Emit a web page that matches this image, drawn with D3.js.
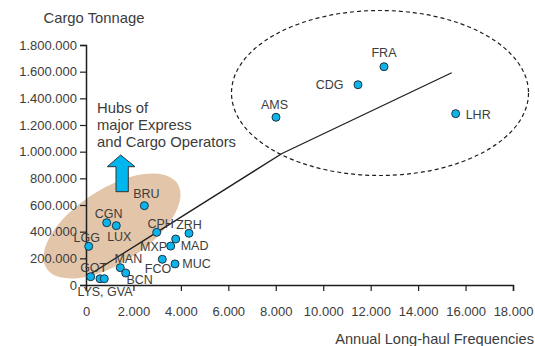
<!DOCTYPE html>
<html>
<head>
<meta charset="utf-8">
<script src="https://cdn.jsdelivr.net/npm/d3@7"></script>
<style>
  html, body { margin: 0; padding: 0; background: #fff; }
  svg { display: block; font-family: "Liberation Sans", Arial, sans-serif; }
</style>
</head>
<body>
<svg id="chart" width="535" height="346"></svg>
<script>
// Airports: annual long-haul frequencies vs. cargo tonnage
const airports    = ["BRU","CGN","LUX","LGG","CPH","ZRH","MXP","MAD","MAN","BCN","FCO","MUC","GOT","LYS","GVA","FRA","CDG","AMS","LHR"];
const frequencies = [2460, 873, 1277, 114, 2980, 4342, 3570, 3781, 1446, 1674, 3216, 3752, 198, 590, 771, 12562, 11466, 8009, 15584];
const tonnage     = [595000, 467000, 445000, 290000, 395000, 388000, 292000, 345000, 130000, 90000, 193000, 158000, 62000, 47000, 47000, 1637000, 1502000, 1258000, 1285000];

// Trend line, read at its ends, through CPH and at its bend
const trendFreq    = [55, 2980, 8262, 15416];
const trendTonnage = [67500, 395000, 986000, 1592000];

// Axis ticks
const xTicks = [0, 2000, 4000, 6000, 8000, 10000, 12000, 14000, 16000, 18000];
const yTicks = [0, 200000, 400000, 600000, 800000, 1000000, 1200000, 1400000, 1600000, 1800000];

// Label placement per airport: offset from the marker, anchor, optional text override
const labelPlace = {
  BRU: [2, -12, "middle"], CGN: [2, -9.5, "middle"], LUX: [3, 11, "middle"],
  LGG: [-2, -8.5, "middle"], CPH: [4, -9, "middle"], ZRH: [0, -9, "middle"],
  MXP: [-3.5, 0, "end"], MAD: [5, 6, "start"], MAN: [8, -8.7, "middle"],
  BCN: [14, 6.3, "middle"], FCO: [-4.3, 9.4, "middle"], MUC: [7.3, 0, "start"],
  GOT: [3, -9.7, "middle"], LYS: [5, 13, "middle", "LYS, GVA"], GVA: null,
  FRA: [0, -14, "middle"], CDG: [-14.4, 0, "end"], AMS: [-1.4, -12.3, "middle"],
  LHR: [10, 1.3, "start"]
};

const fmt = v => d3.format(",")(v).replace(/,/g, ".");

const svg = d3.select("#chart");
const x = d3.scaleLinear().domain([0, 18000]).range([86, 513]);
const y = d3.scaleLinear().domain([0, 1800000]).range([285, 45]);

const textColor = "#3c3c3c";
const inkColor = "#1e1e1e";

// Shaded group: hubs of express / cargo operators
svg.append("ellipse")
  .attr("cx", 112).attr("cy", 226).attr("rx", 78).attr("ry", 37)
  .attr("transform", "rotate(-33 112 226)")
  .attr("fill", "#e3c6aa");

// Dashed group: the large hubs
svg.append("ellipse")
  .attr("cx", 380).attr("cy", 93).attr("rx", 148.5).attr("ry", 82.5)
  .attr("fill", "none").attr("stroke", inkColor).attr("stroke-width", 1.2)
  .attr("stroke-dasharray", "4,3");

// Up arrow
const arrow = [[120.7,155],[135,166.7],[128.3,166.7],[128.3,191.7],[116,191.7],[116,166.7],[107.3,166.7]];
svg.append("path")
  .attr("d", d3.line()(arrow) + "Z")
  .attr("fill", "#00b6ee").attr("stroke", "#333").attr("stroke-width", 1);

// Axes
const xAxis = svg.append("g").attr("transform", "translate(0,285)")
  .call(d3.axisBottom(x).tickValues(xTicks).tickFormat(fmt).tickSizeOuter(0).tickSize(6).tickPadding(16));
const yAxis = svg.append("g").attr("transform", "translate(86,0)")
  .call(d3.axisLeft(y).tickValues(yTicks).tickFormat(fmt).tickSizeOuter(0).tickSize(6).tickPadding(3));
[xAxis, yAxis].forEach(g => {
  g.select(".domain").attr("stroke", inkColor).attr("stroke-width", 1.5);
  g.selectAll(".tick line").attr("stroke", inkColor).attr("stroke-width", 1.2);
  g.selectAll(".tick text").attr("fill", textColor).style("font-size", "13px")
    .style("font-family", "'Liberation Sans', Arial, sans-serif");
});

// Axis titles
svg.append("text").attr("x", 43.5).attr("y", 23.3)
  .attr("fill", textColor).style("font-size", "14.8px").text("Cargo Tonnage");
svg.append("text").attr("x", 534).attr("y", 344).attr("text-anchor", "end")
  .attr("fill", textColor).style("font-size", "14.6px").text("Annual Long-haul Frequencies");

// Annotation
const note = svg.append("text").attr("x", 97).attr("y", 112.7)
  .attr("fill", textColor).style("font-size", "14.8px");
["Hubs of", "major Express", "and Cargo Operators"].forEach((t, i) => {
  note.append("tspan").attr("x", 97).attr("dy", i === 0 ? 0 : 17).text(t);
});

// Trend line
svg.append("path")
  .datum(trendFreq.map((f, i) => [f, trendTonnage[i]]))
  .attr("d", d3.line().x(d => x(d[0])).y(d => y(d[1])))
  .attr("fill", "none").attr("stroke", inkColor).attr("stroke-width", 1.3)
  .attr("stroke-linejoin", "round");

// Airport markers and labels
const pts = airports.map((a, i) => ({ name: a, f: frequencies[i], t: tonnage[i] }));

svg.append("g").selectAll("text").data(pts.filter(d => labelPlace[d.name]))
  .join("text")
  .attr("x", d => x(d.f) + labelPlace[d.name][0])
  .attr("y", d => y(d.t) + labelPlace[d.name][1])
  .attr("dy", "0.36em")
  .attr("text-anchor", d => labelPlace[d.name][2])
  .attr("fill", textColor).style("font-size", "12.5px")
  .text(d => labelPlace[d.name][3] || d.name);

svg.append("g").selectAll("circle").data(pts)
  .join("circle")
  .attr("cx", d => x(d.f)).attr("cy", d => y(d.t)).attr("r", 4)
  .attr("fill", "#0db4ea").attr("stroke", "#1b3344").attr("stroke-width", 1);
</script>
</body>
</html>
